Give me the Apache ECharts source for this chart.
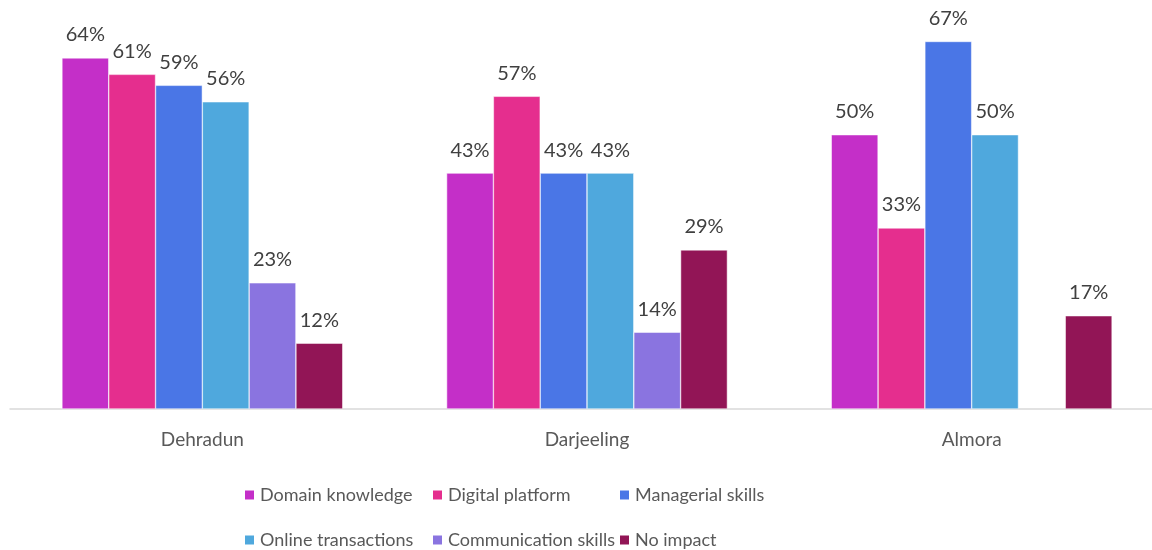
<!DOCTYPE html>
<html>
<head>
<meta charset="utf-8">
<script src="https://cdn.jsdelivr.net/npm/echarts@6/dist/echarts.min.js"></script>
<style>
html,body{margin:0;padding:0;background:#fff;overflow:hidden;}
#main{width:1164px;height:550px;}
</style>
</head>
<body>
<div id="main"></div>
<script>
var categories = ['Dehradun', 'Darjeeling', 'Almora'];
var seriesNames = ['Domain knowledge', 'Digital platform', 'Managerial skills',
	'Online transactions', 'Communication skills', 'No impact'];
var domainKnowledge = [64, 43, 50];
var digitalPlatform = [61, 57, 33];
var managerialSkills = [59, 43, 67];
var onlineTransactions = [56, 43, 50];
var communicationSkills = [23, 14, null];
var noImpact = [12, 29, 17];
var colors = ['#C42FC8', '#E52E8E', '#4A76E6', '#4FA8DD', '#8A74E0', '#921556'];

var values = [domainKnowledge, digitalPlatform, managerialSkills,
	onlineTransactions, communicationSkills, noImpact];

var font = 'Lato, "Open Sans", sans-serif';

function makeSeries(i) {
	return {
		name: seriesNames[i],
		type: 'bar',
		data: values[i],
		barGap: 0,
		barCategoryGap: '27%',
		itemStyle: {color: colors[i], borderColor: '#ffffff', borderWidth: 0.5},
		label: {
			show: true,
			position: 'top',
			distance: 13,
			fontFamily: font,
			fontSize: 20,
			color: '#404040',
			formatter: '{c}%'
		}
	};
}

var series = [];
for (var i = 0; i < seriesNames.length; i++) series.push(makeSeries(i));

// one legend per item so the two rows line up in columns
var legendLeft = [238, 426, 613, 238, 426, 613];
var legendTop = [481, 481, 481, 526, 526, 526];
var legends = [];
for (var j = 0; j < seriesNames.length; j++) {
	legends.push({
		data: [seriesNames[j]],
		left: legendLeft[j],
		top: legendTop[j],
		itemWidth: 11,
		itemHeight: 11,
		itemGap: 0,
		icon: 'rect',
		textStyle: {fontFamily: font, fontSize: 18, color: '#595959'}
	});
}

var chart = echarts.init(document.getElementById('main'));
chart.setOption({
	animation: false,
	color: colors,
	grid: {left: 10, top: 25, right: 0, bottom: 141, containLabel: false},
	legend: legends,
	xAxis: {
		type: 'category',
		data: categories,
		axisLine: {lineStyle: {color: '#d9d9d9', width: 1.5}},
		axisTick: {show: false},
		axisLabel: {fontFamily: font, fontSize: 19, color: '#595959', margin: 21}
	},
	yAxis: {
		type: 'value',
		min: 0,
		max: 70,
		show: false,
		splitLine: {show: false}
	},
	series: series
});
</script>
</body>
</html>
